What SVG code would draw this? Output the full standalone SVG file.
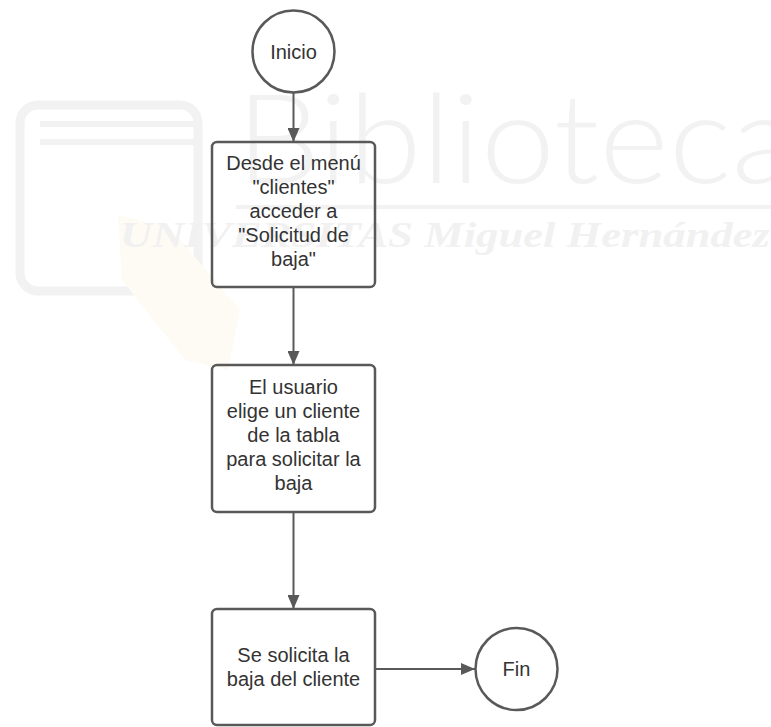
<svg xmlns="http://www.w3.org/2000/svg" width="771" height="727" viewBox="0 0 771 727">
  <style>
    .node { fill: none; stroke: #595959; stroke-width: 2.5; }
    .label { font-family: "Liberation Sans", Arial, sans-serif; font-size: 20px; fill: #333333; text-anchor: middle; }
    .edge { fill: none; stroke: #595959; stroke-width: 2; }
    .wm { fill: none; stroke: #f2f2f2; }
  </style>
  <defs>
    <marker id="arrow" markerUnits="userSpaceOnUse" markerWidth="15" markerHeight="12" refX="14" refY="6" orient="auto">
      <path d="M0,0 L14,6 L0,12 Z" fill="#595959"/>
    </marker>
  </defs>

  <rect width="771" height="727" fill="#ffffff"/>

  <!-- faint library watermark behind the chart -->
  <g id="watermark">
    <rect class="wm" x="20" y="105" width="178" height="186" rx="18" stroke-width="9"/>
    <line class="wm" x1="40" y1="124" x2="198" y2="124" stroke-width="6"/>
    <line class="wm" x1="40" y1="142" x2="198" y2="142" stroke-width="6"/>
    <path d="M118,215 L170,228 L240,310 L228,370 L185,360 L122,280 Z" fill="#fdfbf4"/>
    <text x="236" y="183" font-family="Lato, 'Liberation Sans', sans-serif" font-weight="300" font-size="125" fill="#f2f2f2" textLength="560" lengthAdjust="spacingAndGlyphs">Biblioteca</text>
    <line x1="236" y1="207" x2="771" y2="207" stroke="#f2f2f2" stroke-width="4"/>
    <text x="120" y="247" font-family="'Liberation Serif', serif" font-style="italic" font-weight="bold" font-size="36" fill="#f1f1f1" textLength="650" lengthAdjust="spacingAndGlyphs">UNIVERSITAS Miguel Hernández</text>
  </g>

  <g id="connectors">
    <line class="edge" x1="293.5" y1="93" x2="293.5" y2="142" marker-end="url(#arrow)"/>
    <line class="edge" x1="293.5" y1="287" x2="293.5" y2="365" marker-end="url(#arrow)"/>
    <line class="edge" x1="293.5" y1="512" x2="293.5" y2="609" marker-end="url(#arrow)"/>
    <line class="edge" x1="375" y1="669" x2="475" y2="669" marker-end="url(#arrow)"/>
  </g>

  <g id="inicio">
    <circle class="node" cx="293.5" cy="51.5" r="41"/>
    <text class="label" x="293.5" y="58.5">Inicio</text>
  </g>

  <g id="step-menu">
    <rect class="node" x="212" y="142" width="163" height="145" rx="5"/>
    <text class="label" x="293.5" y="170">Desde el menú</text>
    <text class="label" x="293.5" y="194">"clientes"</text>
    <text class="label" x="293.5" y="218">acceder a</text>
    <text class="label" x="293.5" y="242">"Solicitud de</text>
    <text class="label" x="293.5" y="266">baja"</text>
  </g>

  <g id="step-select">
    <rect class="node" x="212" y="365" width="163" height="147" rx="5"/>
    <text class="label" x="293.5" y="394">El usuario</text>
    <text class="label" x="293.5" y="418">elige un cliente</text>
    <text class="label" x="293.5" y="442">de la tabla</text>
    <text class="label" x="293.5" y="466">para solicitar la</text>
    <text class="label" x="293.5" y="490">baja</text>
  </g>

  <g id="step-request">
    <rect class="node" x="212" y="609" width="163" height="116" rx="5"/>
    <text class="label" x="293.5" y="662">Se solicita la</text>
    <text class="label" x="293.5" y="686">baja del cliente</text>
  </g>

  <g id="fin">
    <circle class="node" cx="516.5" cy="669" r="41"/>
    <text class="label" x="516.5" y="676">Fin</text>
  </g>
</svg>
